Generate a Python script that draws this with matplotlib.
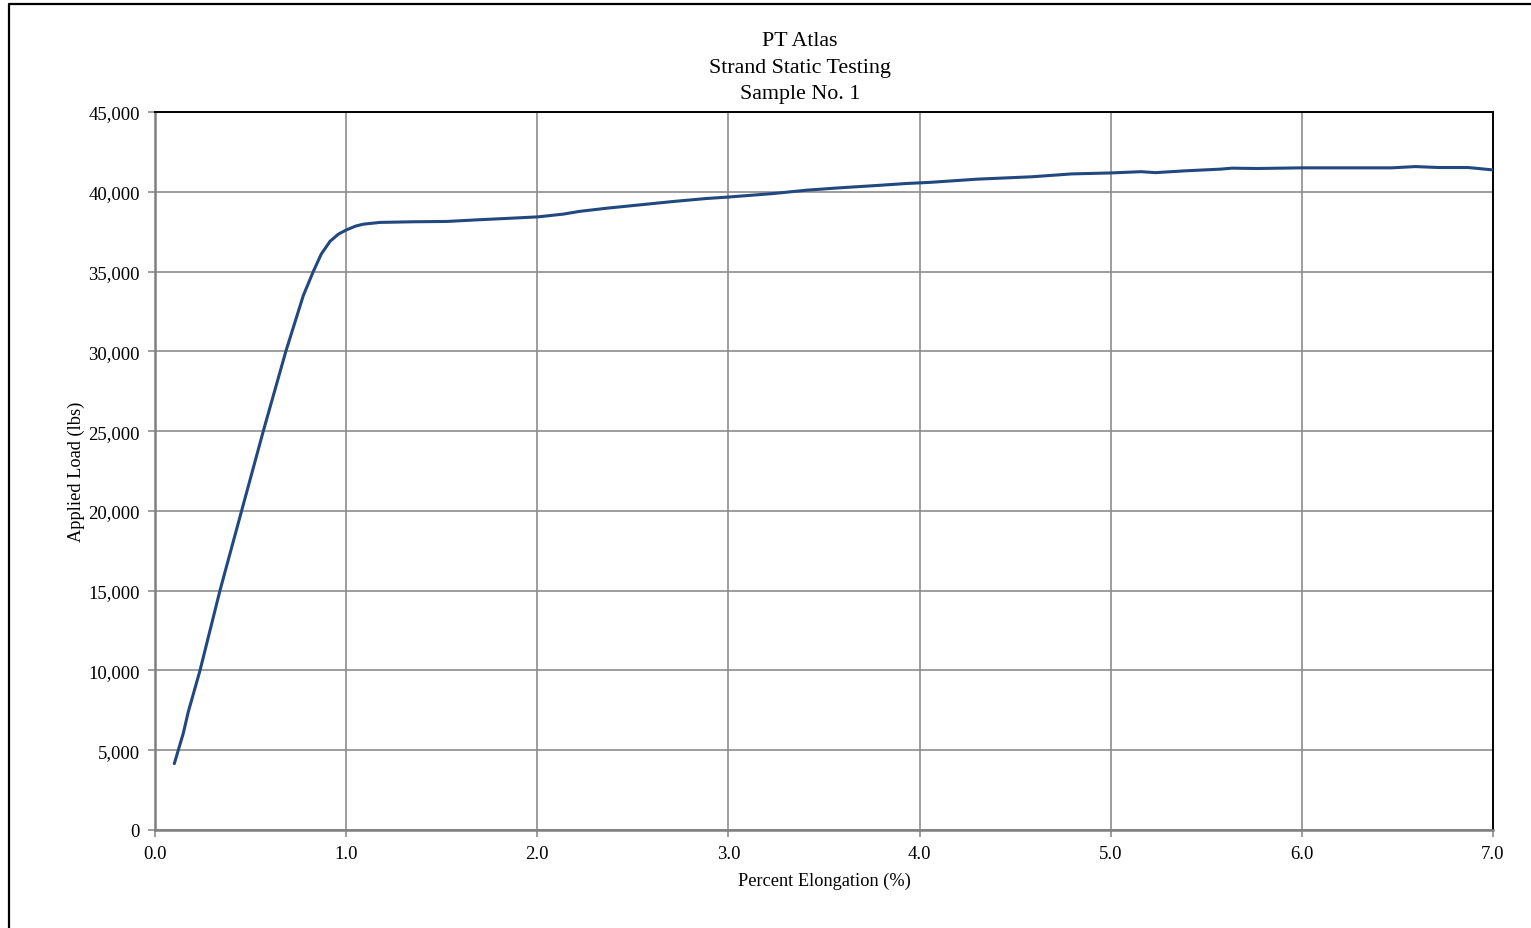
import matplotlib
matplotlib.use("Agg")
import matplotlib.pyplot as plt
from matplotlib.lines import Line2D
from matplotlib.ticker import FuncFormatter, MultipleLocator

# Load vs. elongation readings for sample no. 1
elongation_pct = [
    0.101, 0.148, 0.174, 0.235, 0.340, 0.453, 0.567, 0.685, 0.776, 0.828,
    0.870, 0.916, 0.960, 1.003, 1.050, 1.090, 1.177, 1.350, 1.526, 1.700,
    1.875, 2.005, 2.136, 2.220, 2.363, 2.537, 2.710, 2.886, 3.000, 3.235,
    3.410, 3.584, 3.758, 3.933, 4.055, 4.300, 4.587, 4.796, 5.000, 5.158,
    5.234, 5.386, 5.576, 5.633, 5.767, 6.000, 6.240, 6.470, 6.594, 6.718,
    6.870, 7.000,
]
applied_load_lbs = [
    4160, 6060, 7400, 9980, 15015, 20000, 25020, 30020, 33500, 35000,
    36100, 36900, 37350, 37620, 37850, 37970, 38080, 38120, 38140, 38250,
    38350, 38430, 38600, 38770, 38970, 39180, 39390, 39580, 39670, 39890,
    40100, 40250, 40380, 40520, 40590, 40790, 40940, 41120, 41180, 41260,
    41200, 41310, 41420, 41480, 41460, 41500, 41500, 41500, 41580, 41520,
    41520, 41370,
]

title_lines = ["PT Atlas", "Strand Static Testing", "Sample No. 1"]
x_label = "Percent Elongation (%)"
y_label = "Applied Load (lbs)"

W, H, DPI = 1531, 929, 100
plt.rcParams["font.family"] = ["Liberation Serif", "DejaVu Serif"]

fig = plt.figure(figsize=(W / DPI, H / DPI), dpi=DPI)
fig.patch.set_facecolor("white")

# outer chart frame (left and top edges)
fig.add_artist(Line2D([8.5 / W, 8.5 / W, 1.0], [0.0, 1 - 4.5 / H, 1 - 4.5 / H],
                      transform=fig.transFigure, color="black", lw=1.6))

left, right, top, bottom = 155 / W, 1493 / W, 1 - 113 / H, 1 - 831 / H
ax = fig.add_axes([left, bottom, right - left, top - bottom])

ax.plot(elongation_pct, applied_load_lbs, color="#21487f", lw=2.2,
        solid_capstyle="round", solid_joinstyle="round", zorder=3)

ax.set_xlim(0, 7)
ax.set_ylim(0, 45000)
ax.xaxis.set_major_locator(MultipleLocator(1.0))
ax.yaxis.set_major_locator(MultipleLocator(5000))
ax.xaxis.set_major_formatter(FuncFormatter(lambda v, p: f"{v:.1f}"))
ax.yaxis.set_major_formatter(FuncFormatter(lambda v, p: f"{v:,.0f}"))

ax.grid(True, color="#8c8c8c", lw=1.2, zorder=1)
ax.set_axisbelow(True)

for side in ("top", "right"):
    ax.spines[side].set_color("black")
    ax.spines[side].set_linewidth(1.4)
for side in ("left", "bottom"):
    ax.spines[side].set_color("#7f7f7f")
    ax.spines[side].set_linewidth(1.8)

ax.tick_params(axis="both", direction="out", length=5, width=1.2,
               color="#8c8c8c", labelsize=13.5, labelcolor="black", pad=6)
ax.tick_params(axis="x", pad=6)

ax.set_xlabel(x_label, fontsize=13.2, labelpad=7)
ax.set_ylabel(y_label, fontsize=13.2, labelpad=2)

for i, line in enumerate(title_lines):
    fig.text(800 / W, 1 - (42 + 26 * i) / H, line, ha="center", va="center",
             fontsize=15.8)

fig.savefig("out.png", dpi=DPI, facecolor="white")
